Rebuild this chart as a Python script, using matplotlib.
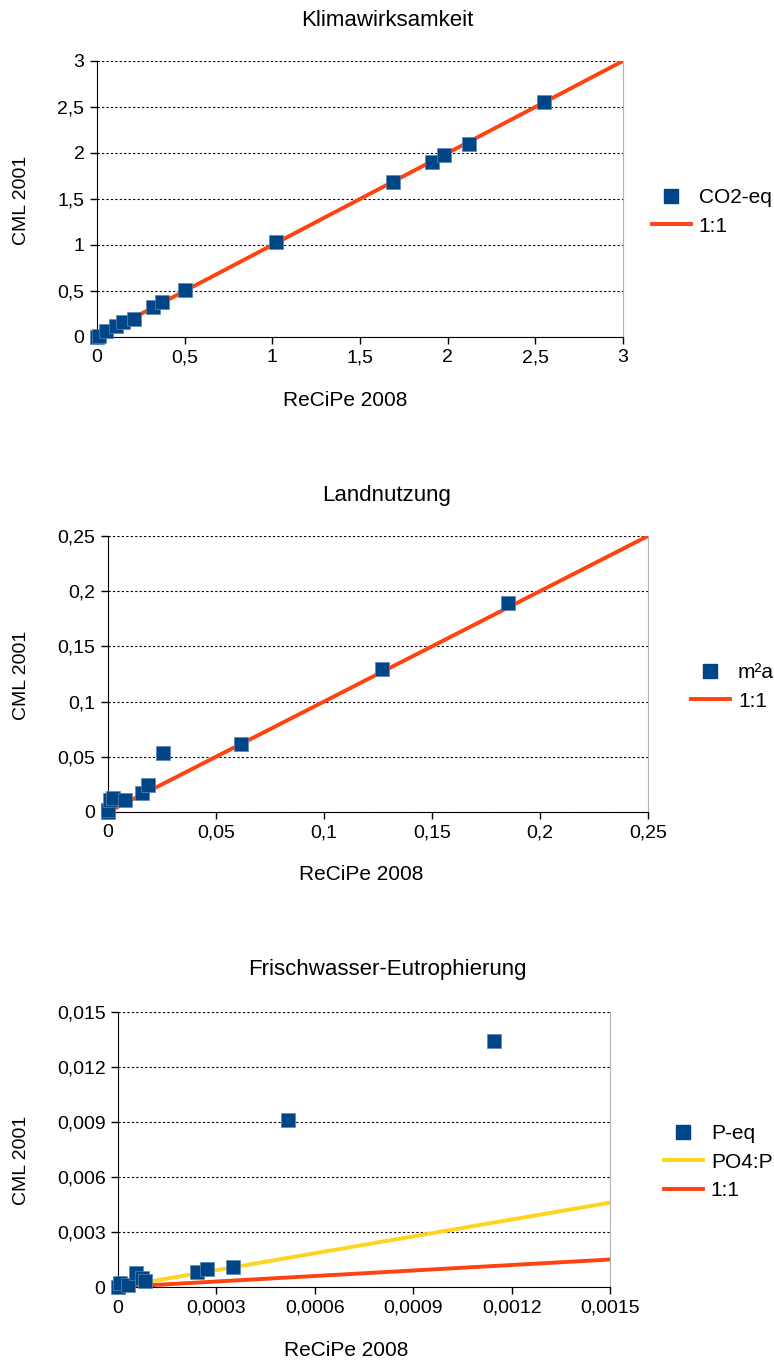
import matplotlib
matplotlib.use("Agg")
import matplotlib.pyplot as plt
from matplotlib.lines import Line2D

plt.rcParams['font.family'] = ['Liberation Sans', 'DejaVu Sans']

# Klimawirksamkeit (CO2-eq)
klima_x = [0, 0.01, 0.05, 0.11, 0.15, 0.21, 0.32, 0.37, 0.50, 1.02, 1.69, 1.91, 1.98, 2.12, 2.55]
klima_y = [0, 0.01, 0.06, 0.12, 0.16, 0.20, 0.33, 0.38, 0.51, 1.03, 1.68, 1.90, 1.98, 2.10, 2.55]
klima_line = [0, 3]
klima_ticks = [0, 0.5, 1, 1.5, 2, 2.5, 3]
klima_labels = ['0', '0,5', '1', '1,5', '2', '2,5', '3']

# Landnutzung (m²a)
land_x = [0, 0.0002, 0.001, 0.0025, 0.0079, 0.0156, 0.0187, 0.0256, 0.0614, 0.127, 0.185]
land_y = [0, 0.002, 0.011, 0.0125, 0.011, 0.017, 0.0245, 0.0532, 0.0616, 0.1295, 0.189]
land_line = [0, 0.25]
land_ticks = [0, 0.05, 0.1, 0.15, 0.2, 0.25]
land_labels = ['0', '0,05', '0,1', '0,15', '0,2', '0,25']

# Frischwasser-Eutrophierung (P-eq)
frisch_x = [0, 0.000006, 0.00003, 0.000055, 0.000072, 0.000082, 0.00024, 0.000272, 0.000352, 0.000518, 0.001146]
frisch_y = [0, 0.0002, 0.0001, 0.00075, 0.0005, 0.00034, 0.0008, 0.001, 0.00111, 0.00911, 0.01342]
frisch_line = [0, 0.0015]
po4_y = [0, 0.0046]
frisch_xticks = [0, 0.0003, 0.0006, 0.0009, 0.0012, 0.0015]
frisch_xlabels = ['0', '0,0003', '0,0006', '0,0009', '0,0012', '0,0015']
frisch_yticks = [0, 0.003, 0.006, 0.009, 0.012, 0.015]
frisch_ylabels = ['0', '0,003', '0,006', '0,009', '0,012', '0,015']

blue = '#004586'
orange = '#ff420e'
yellow = '#ffd320'
fs = 14      # ticks, y label
fs_t = 16    # titles
fs_l = 15    # x label, legend

fig = plt.figure(figsize=(7.74, 13.61), dpi=100)


def style(ax, xt, xl, yt, yl):
    ax.set_xlim(xt[0], xt[-1])
    ax.set_ylim(yt[0], yt[-1])
    ax.set_xticks(xt)
    ax.set_xticklabels(xl)
    ax.set_yticks(yt)
    ax.set_yticklabels(yl)
    ax.tick_params(direction='out', length=5, width=1, labelsize=fs, pad=4)
    ax.grid(axis='y', color='black', linestyle=(0, (2, 2)), linewidth=0.8)
    ax.set_axisbelow(True)
    ax.spines['top'].set_visible(False)
    ax.spines['right'].set_color('#b3b3b3')
    ax.spines['left'].set_color('black')
    ax.spines['bottom'].set_color('black')


def add_legend(ax, handles, labels, x, y):
    ax.legend(handles, labels, loc='center left', bbox_to_anchor=(x / 774, 1 - y / 1361),
              bbox_transform=fig.transFigure, frameon=False, fontsize=fs_l, handlelength=1.85,
              handletextpad=0.4, labelspacing=0.45, borderpad=0, borderaxespad=0)


# panel 1
ax1 = fig.add_axes([0.1253, 0.7524, 0.6796, 0.2028])
ax1.plot(klima_line, klima_line, color=orange, lw=2.8, zorder=2)
ax1.plot(klima_x, klima_y, 's', color=blue, markersize=10, markeredgecolor='#5b85b5',
         markeredgewidth=0.5, clip_on=False, zorder=3)
style(ax1, klima_ticks, klima_labels, klima_ticks, klima_labels)
fig.text(0.5, 1 - 20 / 1361, 'Klimawirksamkeit', ha='center', va='center', fontsize=fs_t)
fig.text(345 / 774, 1 - 400 / 1361, 'ReCiPe 2008', ha='center', va='center', fontsize=fs_l)
fig.text(22 / 774, 1 - 200 / 1361, 'CML 2001', ha='center', va='center', rotation=90, fontsize=fs)
h1 = [Line2D([], [], marker='s', color=blue, linestyle='none', markersize=10),
      Line2D([], [], color=orange, lw=2.8)]
add_legend(ax1, h1, ['CO2-eq', '1:1'], 652, 212)

# panel 2
ax2 = fig.add_axes([0.1395, 0.4034, 0.6977, 0.2028])
ax2.plot(land_line, land_line, color=orange, lw=2.8, zorder=2)
ax2.plot(land_x, land_y, 's', color=blue, markersize=10, markeredgecolor='#5b85b5',
         markeredgewidth=0.5, clip_on=False, zorder=3)
style(ax2, land_ticks, land_labels, land_ticks, land_labels)
fig.text(0.5, 1 - 496 / 1361, 'Landnutzung', ha='center', va='center', fontsize=fs_t)
fig.text(361 / 774, 1 - 875 / 1361, 'ReCiPe 2008', ha='center', va='center', fontsize=fs_l)
fig.text(22 / 774, 1 - 675 / 1361, 'CML 2001', ha='center', va='center', rotation=90, fontsize=fs)
add_legend(ax2, h1, ['m²a', '1:1'], 691, 687)

# panel 3
ax3 = fig.add_axes([0.1525, 0.05437, 0.6357, 0.2021])
ax3.plot(frisch_line, po4_y, color=yellow, lw=2.8, zorder=2)
ax3.plot(frisch_line, frisch_line, color=orange, lw=2.8, zorder=2)
ax3.plot(frisch_x, frisch_y, 's', color=blue, markersize=10, markeredgecolor='#5b85b5',
         markeredgewidth=0.5, clip_on=False, zorder=3)
style(ax3, frisch_xticks, frisch_xlabels, frisch_yticks, frisch_ylabels)
fig.text(0.5, 1 - 970 / 1361, 'Frischwasser-Eutrophierung', ha='center', va='center', fontsize=fs_t)
fig.text(346 / 774, 1 - 1350 / 1361, 'ReCiPe 2008', ha='center', va='center', fontsize=fs_l)
fig.text(22 / 774, 1 - 1160 / 1361, 'CML 2001', ha='center', va='center', rotation=90, fontsize=fs)
h3 = [Line2D([], [], marker='s', color=blue, linestyle='none', markersize=10),
      Line2D([], [], color=yellow, lw=2.8),
      Line2D([], [], color=orange, lw=2.8)]
add_legend(ax3, h3, ['P-eq', 'PO4:P', '1:1'], 664, 1162)

fig.savefig('out.png', dpi=100)
